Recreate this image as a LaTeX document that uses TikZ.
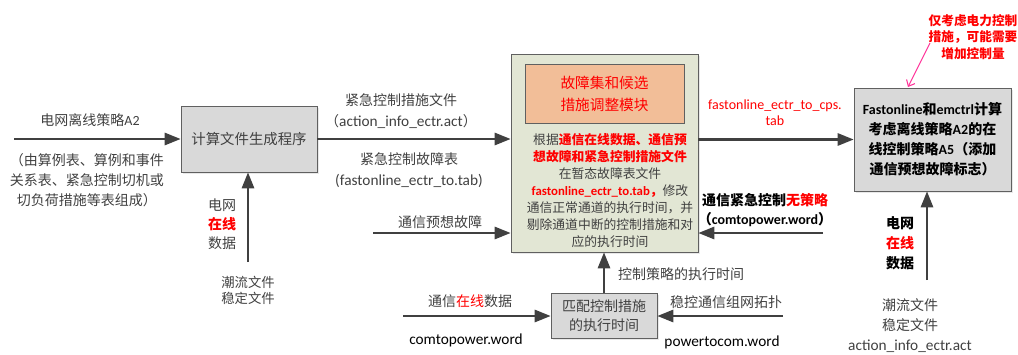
\documentclass[tikz,border=0pt]{standalone}
\usepackage{fontspec}
\setmainfont{Noto Sans CJK SC}
\newfontfamily\lat{Carlito}
\usetikzlibrary{arrows.meta,shadows}
\definecolor{arrowgray}{HTML}{404040}
\definecolor{txtgray}{HTML}{404040}
\definecolor{boxgray}{HTML}{D9D9D9}
\definecolor{modgreen}{HTML}{E2E6D4}
\definecolor{modorange}{HTML}{F2BE98}
\definecolor{notered}{HTML}{FF0000}
\definecolor{notepink}{HTML}{FF3399}
\tikzset{
  proc/.style={draw=gray!75!black, fill=boxgray, align=center, text=txtgray,
    drop shadow={shadow xshift=1.5pt, shadow yshift=-1.5pt, fill=gray!35},
    font=\fontsize{10.5}{15}\selectfont},
  flow/.style={line width=2pt, draw=arrowgray, -{Triangle[length=12pt,width=9pt]}},
  lab/.style={text=txtgray, align=center, inner sep=1pt, font=\fontsize{10.5}{15}\selectfont},
  notearrow/.style={draw=notepink, line width=0.8pt, -{Straight Barb[length=4pt,width=7pt]}},
}
\newcommand{\hot}[1]{{\bfseries\color{notered}#1}}
\begin{document}
\begin{tikzpicture}[x=0.75pt, y=-0.75pt]
\useasboundingbox (0,0) rectangle (1018,354);
% boxes
\node[proc, minimum width=102pt, minimum height=49.5pt, font=\fontsize{10.8}{15}\selectfont] (calc) at (249,139) {计算文件生成程序};
\node[proc, fill=modgreen, minimum width=140.25pt, minimum height=148.5pt] (mod) at (604.5,153) {};
\node[draw=gray!75!black, fill=modorange, minimum width=119.25pt, minimum height=44.25pt, align=center,
  text=notered, font=\fontsize{11}{16.5}\selectfont] (sel) at (604.5,93.5) {故障集和候选\\措施调整模块};
\node[lab, font=\fontsize{9.6}{12.75}\selectfont] (rule) at (610,190.5) {根据\hot{通信在线数据、通信预}\\
  \hot{想故障和紧急控制措施文件}\\
  在暂态故障表文件\\
  \hot{{\lat fastonline\_ectr\_to.tab}，}修改\\
  通信正常通道的执行时间，并\\
  剔除通道中断的控制措施和对\\
  应的执行时间};
\node[proc, text=black, minimum width=117.75pt, minimum height=77.25pt, font=\bfseries\fontsize{10.5}{15}\selectfont] (fast) at (932.5,139.5)
  {{\lat Fastonline}和{\lat emctrl}计算\\考虑离线策略{\lat A2}的在\\线控制策略{\lat A5}（添加\\通信预想故障标志）};
\node[proc, minimum width=79.5pt, minimum height=33.75pt, font=\fontsize{10.5}{14}\selectfont] (match) at (604,315.5) {匹配控制措施\\的执行时间};
% labels
\node[lab] (offA2) at (90,120) {电网离线策略{\lat A2}};
\node[lab] (offSrc) at (87,180) {（由算例表、算例和事件\\关系表、紧急控制切机或\\切负荷措施等表组成）};
\node[lab, font=\fontsize{10.5}{14.25}\selectfont] (calcOn) at (222,224) {电网\\\hot{在线}\\数据};
\node[lab, font=\fontsize{10}{12}\selectfont] (calcFile) at (248,290) {潮流文件\\稳定文件};
\node[lab, font=\fontsize{10.5}{15.75}\selectfont] (actLab) at (401,111) {紧急控制措施文件\\（{\lat\fontsize{11.5}{15.75}\selectfont action\_info\_ectr.act}）};
\node[lab, font=\fontsize{10.5}{15.75}\selectfont] (tabLab) at (409,170) {紧急控制故障表\\{\lat\fontsize{11.5}{15.75}\selectfont (fastonline\_ectr\_to.tab)}};
\node[lab] (yxLab) at (440,222) {通信预想故障};
\node[lab, text=notered, font=\lat\fontsize{10.5}{12}\selectfont] (cpsLab) at (775,113) {fastonline\_ectr\_to\_cps.\\tab};
\node[lab, text=black, font=\bfseries\fontsize{10.5}{14.25}\selectfont] (wuLab) at (765,210) {通信紧急控制{\color{notered}无策略}\\（{\lat comtopower.word}）};
\node[lab, text=notered, font=\bfseries\fontsize{9.5}{12.5}\selectfont] (note) at (973,37) {仅考虑电力控制\\措施，可能需要\\增加控制量};
\node[lab, text=black, font=\bfseries\fontsize{10.5}{15}\selectfont] (fastOn) at (900,243) {电网\\{\color{notered}在线}\\数据};
\node[lab, font=\fontsize{10.5}{15}\selectfont] (fastFile) at (910,326) {潮流文件\\稳定文件\\{\lat\fontsize{11.5}{15}\selectfont action\_info\_ectr.act}};
\node[lab] (timeLab) at (681,274) {控制策略的执行时间};
\node[lab] (zxLab) at (470,301) {通信{\color{notered}在线}数据};
\node[lab, font=\lat\fontsize{11.5}{14}\selectfont, text=black] (zxFile) at (466,340) {comtopower.word};
\node[lab] (tpLab) at (726,302) {稳控通信组网拓扑};
\node[lab, font=\lat\fontsize{11.5}{14}\selectfont, text=black] (tpFile) at (722,342) {powertocom.word};
% free ends
\coordinate (inL) at (14,139);
\coordinate (calcIn) at (248,262);
\coordinate (yxL) at (373,233);
\coordinate (wuR) at (823,233);
\coordinate (fastIn) at (927,280);
\coordinate (zxL) at (403,316);
\coordinate (tpR) at (783,316);
\coordinate (pkS) at (930,43);
\coordinate (pkE) at (908,87);
% connectors
\draw[flow] (inL) -- (calc.west);
\draw[flow] (calcIn) -- (calcIn |- calc.south);
\draw[flow] (calc.east) -- (calc.east -| mod.west);
\draw[flow] (yxL) -- (yxL -| mod.west);
\draw[flow] (mod.east |- fast.west) -- (fast.west);
\draw[flow] (wuR) -- (wuR -| mod.east);
\draw[flow] (fastIn) -- (fastIn |- fast.south);
\draw[flow] (match.north) -- (match.north |- mod.south);
\draw[flow] (zxL) -- (zxL -| match.west);
\draw[flow] (tpR) -- (tpR -| match.east);
\draw[notearrow] (pkS) -- (pkE);
\end{tikzpicture}
\end{document}
